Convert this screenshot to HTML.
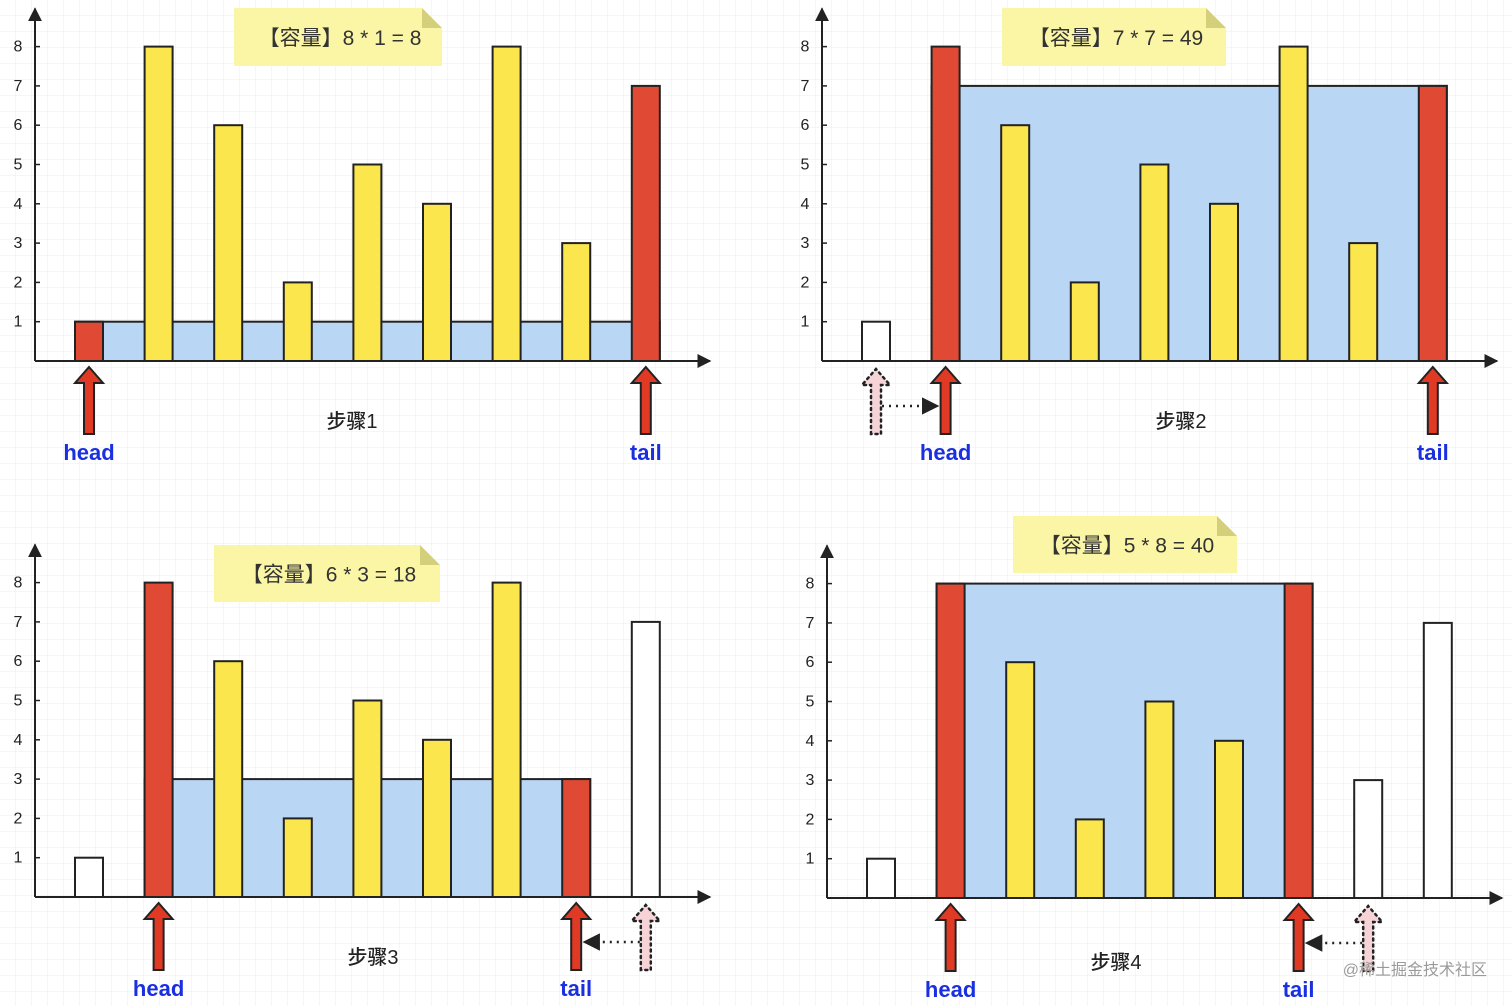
<!DOCTYPE html>
<html><head><meta charset="utf-8"><style>
html,body{margin:0;padding:0;background:#fff;}
#c{position:absolute;left:0;top:0;}
text{font-family:"Liberation Sans","Noto Sans CJK SC",sans-serif;}
</style></head><body>
<svg id="c" width="1512" height="1006" xmlns="http://www.w3.org/2000/svg">
<defs>
<pattern id="grid" width="16" height="16" patternUnits="userSpaceOnUse">
<path d="M16 0V16M0 16H16" stroke="#ececec" stroke-width="1" fill="none"/>
</pattern>
<marker id="ah" viewBox="0 0 10 10" refX="9" refY="5" markerWidth="7" markerHeight="7" orient="auto"><path d="M0 0L10 5L0 10z" fill="#222"/></marker>
</defs>
<rect width="1512" height="1006" fill="url(#grid)"/>
<g id="root"></g>
<text x="1487" y="975" text-anchor="end" font-size="16" fill="#9a9a9a">@稀土掘金技术社区</text>
</svg>
<script>
const heights = [1,8,6,2,5,4,8,3,7];
const tickLabels = [1,2,3,4,5,6,7,8];
const panelStates = [
  ['R','Y','Y','Y','Y','Y','Y','Y','R'],
  ['W','R','Y','Y','Y','Y','Y','Y','R'],
  ['W','R','Y','Y','Y','Y','Y','R','W'],
  ['W','R','Y','Y','Y','Y','R','W','W']
];
const waterLevels = [1,7,3,8];
const noteTexts = ['【容量】8 * 1 = 8','【容量】7 * 7 = 49','【容量】6 * 3 = 18','【容量】5 * 8 = 40'];
const stepTexts = ['步骤1','步骤2','步骤3','步骤4'];
const headIdx = [0,1,1,1];
const tailIdx = [8,8,7,6];
const prevHead = [null,0,null,null];
const prevTail = [null,null,8,7];

const panels = [
  {ax:35, base:361, unit:39.3, x0:89, note:[234,8,208,58], step:[352,428]},
  {ax:822, base:361, unit:39.3, x0:876, note:[1002,8,224,58], step:[1181,428]},
  {ax:35, base:897, unit:39.3, x0:89, note:[214,545,226,57], step:[373,964]},
  {ax:827, base:898, unit:39.3, x0:881, note:[1013,516,224,57], step:[1116,969]}
];
const gap = 69.6, bw = 28;
const NS = 'http://www.w3.org/2000/svg';
const root = document.getElementById('root');
function mk(tag, attrs, parent){
  const e = document.createElementNS(NS, tag);
  for (const k in attrs) e.setAttribute(k, attrs[k]);
  (parent||root).appendChild(e);
  return e;
}
const fills = {R:'#e04a35', Y:'#fbe74d', W:'#ffffff'};

function upArrow(g, cx, top, bottom, fill, dotted){
  const d = `M${cx-5} ${bottom}V${top+16}H${cx-14}L${cx} ${top}L${cx+14} ${top+16}H${cx+5}V${bottom}Z`;
  return mk('path', {d, fill, stroke:'#222', 'stroke-width': dotted?2.5:2, 'stroke-dasharray': dotted?'2 4':'none', 'stroke-linecap':'round'}, g);
}

panels.forEach((p, pi) => {
  const g = mk('g', {});
  
  
  const xc = i => p.x0 + i*gap;
  const y = v => p.base - v*p.unit;
  const h = headIdx[pi], t = tailIdx[pi];
  const w = mk('rect', {x: xc(h)-bw/2, y: y(waterLevels[pi]), width: xc(t)-xc(h)+bw, height: waterLevels[pi]*p.unit, fill:'#b9d7f4', stroke:'#222', 'stroke-width':2}, g);
  
  
  heights.forEach((v, i) => {
    const r = mk('rect', {x: xc(i)-bw/2, y: y(v), width: bw, height: v*p.unit, fill: fills[panelStates[pi][i]], stroke:'#222', 'stroke-width':2}, g);
    
    
  });
  const ya = mk('line', {x1:p.ax, y1:p.base, x2:p.ax, y2:y(8)-38, stroke:'#222', 'stroke-width':2, 'marker-end':'url(#ah)'}, g);
  
  
  const xa = mk('line', {x1:p.ax, y1:p.base, x2:p.ax+675, y2:p.base, stroke:'#222', 'stroke-width':2, 'marker-end':'url(#ah)'}, g);
  
  
  tickLabels.forEach(tv => {
    mk('line', {x1:p.ax, y1:y(tv), x2:p.ax+5, y2:y(tv), stroke:'#222', 'stroke-width':1.5}, g);
    const tx = mk('text', {x:p.ax-17, y:y(tv)+5, 'font-size':16, 'text-anchor':'middle', fill:'#222'}, g);
    tx.textContent = tv;
    
    
  });
  const [nx, ny, nw, nh] = p.note;
  const n = mk('path', {d:`M${nx} ${ny}H${nx+nw-20}L${nx+nw} ${ny+20}V${ny+nh}H${nx}Z`, fill:'#fbf5a6'}, g);
  
  
  mk('path', {d:`M${nx+nw-20} ${ny}L${nx+nw} ${ny+20}H${nx+nw-20}Z`, fill:'#d4cf7a'}, g);
  const nt = mk('text', {x:nx+nw/2+2, y:ny+nh/2+8, 'font-size':21, 'text-anchor':'middle', fill:'#333'}, g);
  nt.textContent = noteTexts[pi];
  
  
  const st = mk('text', {x:p.step[0], y:p.step[1], 'font-size':20, 'font-weight':500, 'text-anchor':'middle', fill:'#222'}, g);
  st.textContent = stepTexts[pi];
  
  
  [[h,'head'],[t,'tail']].forEach(([idx, lab]) => {
    const a = upArrow(g, xc(idx), p.base+6, p.base+73, '#e03a25', false);
    
    
    const lt = mk('text', {x:xc(idx), y:p.base+99, 'font-size':22, 'font-weight':600, 'text-anchor':'middle', fill:'#1a2fe0'}, g);
    lt.textContent = lab;
    
    
  });
  [[prevHead[pi], h],[prevTail[pi], t]].forEach(([from, to]) => {
    if (from === null) return;
    const a = upArrow(g, xc(from), p.base+8, p.base+73, '#f6d3d6', true);
    
    
    const dir = to > from ? 1 : -1;
    const ln = mk('line', {x1:xc(from)+dir*6, y1:p.base+45, x2:xc(to)-dir*8, y2:p.base+45, stroke:'#222', 'stroke-width':2.5, 'stroke-dasharray':'2 5', 'marker-end':'url(#ah)'}, g);
    
    
  });
});
</script>
</body></html>
